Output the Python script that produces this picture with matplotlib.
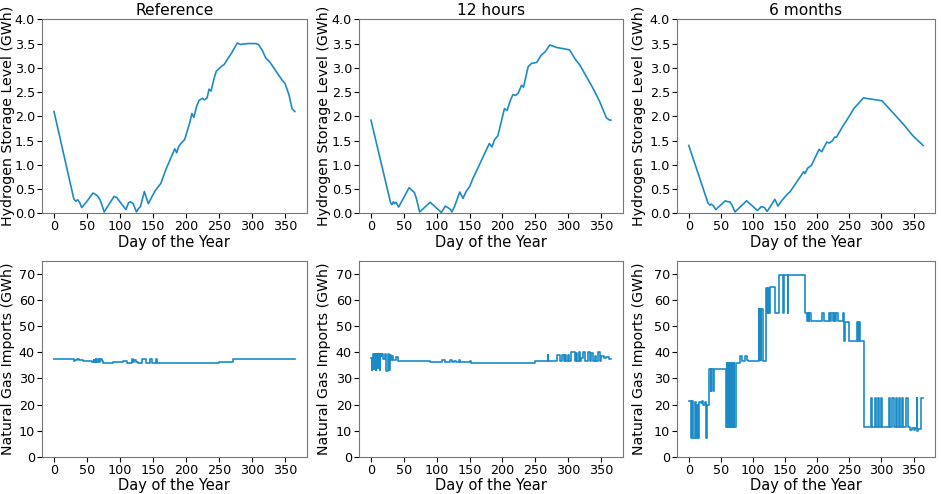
import matplotlib
matplotlib.use("Agg")
import matplotlib.pyplot as plt

# ---- hydrogen storage level (GWh) ----
h2_ref_days = [0, 30, 33, 36, 39, 42, 50, 59, 63, 66, 69, 72, 76, 84, 91, 95, 102, 109,
               113, 116, 120, 125, 128, 131, 137, 141, 143, 149, 154, 162, 170, 178, 183,
               186, 189, 193, 198, 206, 209, 212, 216, 220, 225, 228, 232, 235, 238, 243,
               246, 253, 258, 264, 269, 274, 278, 283, 287, 295, 305, 310, 316, 321, 327,
               334, 340, 346, 350, 356, 361, 365]
h2_ref_vals = [2.1, 0.3, 0.25, 0.28, 0.22, 0.12, 0.25, 0.42, 0.39, 0.36, 0.3, 0.2, 0.03,
               0.2, 0.35, 0.33, 0.2, 0.08, 0.22, 0.24, 0.2, 0.03, 0.1, 0.14, 0.45, 0.28,
               0.2, 0.36, 0.48, 0.62, 0.92, 1.17, 1.33, 1.25, 1.38, 1.45, 1.52, 1.88, 2.06,
               1.98, 2.2, 2.33, 2.37, 2.34, 2.38, 2.56, 2.52, 2.8, 2.93, 3.02, 3.07, 3.2,
               3.3, 3.42, 3.51, 3.48, 3.49, 3.5, 3.5, 3.48, 3.35, 3.2, 3.12, 2.98, 2.86,
               2.74, 2.68, 2.45, 2.15, 2.1]

h2_12h_days = [0, 30, 32, 34, 36, 38, 42, 58, 62, 66, 69, 74, 90, 107, 113, 117, 121,
               123, 127, 135, 140, 145, 150, 155, 160, 180, 184, 188, 193, 203, 207, 212,
               216, 220, 224, 229, 232, 239, 244, 252, 259, 265, 272, 282, 302, 310, 318,
               328, 338, 348, 358, 362, 365]
h2_12h_vals = [1.92, 0.21, 0.18, 0.24, 0.2, 0.23, 0.13, 0.53, 0.48, 0.43, 0.31, 0.03,
               0.23, 0.02, 0.15, 0.12, 0.08, 0.03, 0.14, 0.44, 0.31, 0.46, 0.55, 0.72,
               0.86, 1.44, 1.37, 1.52, 1.6, 2.16, 2.12, 2.33, 2.45, 2.43, 2.48, 2.64, 2.6,
               3.02, 3.09, 3.11, 3.26, 3.33, 3.47, 3.42, 3.37, 3.19, 3.05, 2.81, 2.57,
               2.3, 1.97, 1.93, 1.92]

h2_6m_days = [0, 30, 33, 35, 38, 42, 57, 61, 64, 67, 72, 90, 107, 113, 118, 122, 125,
              134, 139, 144, 153, 158, 179, 181, 185, 191, 203, 207, 215, 219, 224, 227,
              230, 240, 248, 257, 272, 301, 334, 349, 365]
h2_6m_vals = [1.4, 0.21, 0.17, 0.19, 0.16, 0.08, 0.26, 0.24, 0.24, 0.18, 0.03, 0.26,
              0.06, 0.14, 0.12, 0.04, 0.1, 0.29, 0.15, 0.25, 0.39, 0.45, 0.86, 0.82,
              0.93, 0.99, 1.32, 1.27, 1.47, 1.45, 1.5, 1.57, 1.57, 1.8, 1.96, 2.16, 2.38,
              2.32, 1.84, 1.6, 1.4]

# ---- natural gas imports (GWh), step values ----
ng_ref_days = [0, 30, 32, 35, 38, 41, 44, 58, 60, 61, 63, 64, 66, 68, 70, 72, 74, 90,
               105, 110, 118, 120, 122, 124, 126, 128, 134, 136, 140, 146, 148, 154,
               156, 160, 180, 200, 230, 250, 272, 365]
ng_ref_vals = [37.3, 36.8, 37.2, 37.5, 37.0, 36.9, 36.8, 36.2, 37.2, 36.3, 37.3, 36.4,
               37.4, 36.3, 37.4, 36.5, 36.1, 36.4, 36.6, 36.1, 37.6, 36.3, 37.2, 36.2,
               36.2, 36.1, 37.5, 37.5, 36.1, 37.4, 36.1, 37.3, 36.0, 36.0, 35.9, 36.0,
               36.1, 36.3, 37.5, 37.5]

ng_12h_days = [0, 1, 2, 3, 4, 5, 7, 8, 10, 11, 13, 14, 16, 17, 19, 21, 23, 26, 27, 28,
               29, 30, 32, 34, 36, 38, 41, 90, 96, 108, 112, 120, 123, 126, 130, 134,
               136, 150, 152, 160, 200, 230, 250, 262, 269, 270, 283, 287, 290, 293, 295,
               297, 299, 301, 305, 310, 312, 314, 316, 318, 320, 323, 326, 330, 333, 335,
               338, 340, 343, 346, 348, 350, 354, 358, 362, 365]
ng_12h_vals = [37.8, 33.2, 38.0, 39.3, 33.5, 39.5, 33.2, 39.5, 34.0, 39.3, 33.2, 39.5,
               38.5, 39.5, 37.5, 39.5, 33.0, 39.5, 38.5, 33.2, 39.0, 37.0, 38.5, 37.0,
               37.2, 38.2, 36.8, 36.2, 36.3, 37.2, 36.4, 36.9, 36.2, 36.8, 36.3, 36.9,
               36.2, 36.8, 36.0, 36.0, 35.9, 36.0, 36.5, 36.6, 39.0, 36.6, 39.0, 36.6,
               39.0, 36.6, 39.0, 36.6, 39.0, 36.6, 40.0, 36.5, 39.8, 36.5, 40.0, 36.5,
               38.0, 40.0, 36.5, 40.0, 36.5, 39.8, 36.5, 38.5, 36.5, 40.0, 36.8, 38.5,
               37.8, 38.3, 37.5, 37.5]

ng_6m_days = [0, 3, 5, 7, 9, 10, 12, 13, 15, 16, 19, 20, 22, 26, 27, 29,
              32, 34, 35, 37, 39, 41,
              58, 59, 60, 61, 62, 63, 64, 65, 66, 67, 68, 70, 71,
              74, 79, 83, 87, 90, 93,
              109, 110, 111, 112, 113, 115,
              120, 122, 123, 125, 127, 135,
              141, 147, 148, 154, 155,
              181, 184, 186, 187, 188, 190,
              208, 210,
              218, 220, 222, 224, 226, 228, 230, 232,
              240, 242, 244, 250, 262, 263, 265, 267,
              273,
              283, 286, 290, 292, 295, 297, 299, 301,
              312, 314, 317, 319, 322, 324, 327, 329, 332, 334, 339, 341,
              344, 347, 350, 353, 355, 356, 357, 361, 365]
ng_6m_vals = [21.3, 7.0, 21.3, 7.0, 20.0, 21.0, 7.0, 20.0, 7.0, 21.0, 20.5, 21.2, 20.0, 21.0, 7.0, 20.0,
              33.7, 25.2, 33.7, 25.2, 33.7, 33.7,
              11.2, 36.0, 11.2, 36.0, 11.2, 36.0, 11.2, 36.0, 11.2, 36.0, 11.2, 36.0, 11.2,
              36.0, 38.8, 36.8, 38.8, 37.0, 36.5,
              56.5, 37.0, 56.5, 37.0, 56.5, 36.5,
              64.7, 55.0, 64.7, 55.0, 65.2, 55.0,
              69.6, 55.0, 69.6, 55.0, 69.6,
              55.0, 52.0, 55.0, 52.0, 55.0, 52.0,
              55.0, 52.0,
              55.0, 52.0, 55.0, 52.0, 55.0, 52.0, 55.0, 52.0,
              55.0, 44.4, 51.7, 44.4, 51.7, 44.4, 51.7, 44.4,
              11.2,
              22.6, 11.2, 22.6, 11.2, 22.6, 11.2, 22.6, 11.2,
              22.6, 11.2, 22.6, 11.2, 22.6, 11.2, 22.6, 11.2, 22.6, 11.2, 22.6, 11.2,
              10.3, 11.0, 10.3, 11.0, 22.6, 9.8, 10.5, 22.6, 22.6]

titles = ["Reference", "12 hours", "6 months"]
h2_series = [(h2_ref_days, h2_ref_vals), (h2_12h_days, h2_12h_vals), (h2_6m_days, h2_6m_vals)]
ng_series = [(ng_ref_days, ng_ref_vals), (ng_12h_days, ng_12h_vals), (ng_6m_days, ng_6m_vals)]
day_ticks = [0, 50, 100, 150, 200, 250, 300, 350]
h2_ticks = [0.0, 0.5, 1.0, 1.5, 2.0, 2.5, 3.0, 3.5, 4.0]
ng_ticks = [0, 10, 20, 30, 40, 50, 60, 70]

line_color = "#1b8bc8"
plt.rcParams['font.family'] = ['DejaVu Sans']

fig = plt.figure(figsize=(9.41, 4.94), dpi=100)
lefts = [0.0446, 0.3815, 0.7195]
widths = [0.2815, 0.2805, 0.274]
# gap (px) between the y label's right edge and the left spine
label_gap = [26.5, 28, 31]

for col in range(3):
    wpx = widths[col] * 941
    ax = fig.add_axes([lefts[col], 0.568, widths[col], 0.393])
    d, v = h2_series[col]
    ax.plot(d, v, color=line_color, lw=1.2)
    ax.set_ylim(0, 4.0)
    ax.set_xticks(day_ticks)
    ax.set_yticks(h2_ticks)
    ax.set_xlabel("Day of the Year", fontsize=10.5, labelpad=1)
    ax.set_ylabel("Hydrogen Storage Level (GWh)", fontsize=10.2)
    ax.yaxis.set_label_coords(-label_gap[col] / wpx, 0.5)
    ax.set_title(titles[col], fontsize=11.2, pad=3)
    ax.tick_params(labelsize=9.2, pad=1.5)

    ax2 = fig.add_axes([lefts[col], 0.0755, widths[col], 0.396])
    d, v = ng_series[col]
    ax2.plot(d, v, color=line_color, lw=1.2, drawstyle='steps-post')
    ax2.set_ylim(0, 75)
    ax2.set_xticks(day_ticks)
    ax2.set_yticks(ng_ticks)
    ax2.set_xlabel("Day of the Year", fontsize=10.5, labelpad=1)
    ax2.set_ylabel("Natural Gas Imports (GWh)", fontsize=10.2)
    ax2.yaxis.set_label_coords(-label_gap[col] / wpx, 0.5)
    ax2.tick_params(labelsize=9.2, pad=1.5)

    for a in (ax, ax2):
        for s in a.spines.values():
            s.set_color("#777777")

fig.savefig("out.png", dpi=100)
